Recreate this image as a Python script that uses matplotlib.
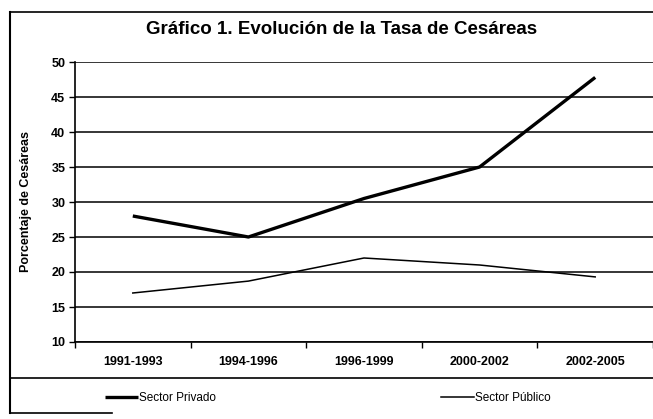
import matplotlib
matplotlib.use("Agg")
import matplotlib.pyplot as plt
from matplotlib.lines import Line2D

periods = ["1991-1993", "1994-1996", "1996-1999", "2000-2002", "2002-2005"]
privado = [28.0, 25.0, 30.5, 35.0, 47.8]
publico = [17.0, 18.7, 22.0, 21.0, 19.3]
yticks = [10, 15, 20, 25, 30, 35, 40, 45, 50]

plt.rcParams['font.family'] = ['Liberation Sans', 'DejaVu Sans']

W, H = 653, 419
fig = plt.figure(figsize=(W / 100, H / 100), dpi=100)
ax = fig.add_axes([75 / W, 1 - 342 / H, (W - 75) / W, (342 - 62) / H])

x = list(range(len(periods)))
ax.plot(x, privado, color='black', lw=2.4, solid_capstyle='butt', label='Sector Privado')
ax.plot(x, publico, color='black', lw=1.1, label='Sector Público')

ax.set_xlim(-0.5, len(periods) - 0.5)
ax.set_ylim(10, 50)
ax.set_yticks(yticks)
ax.set_yticklabels([str(v) for v in yticks], fontsize=9, fontweight='bold')
ax.set_xticks(x)
ax.set_xticklabels(periods, fontsize=9, fontweight='bold')
ax.set_xticks([i + 0.5 for i in range(-1, len(periods))], minor=True)
ax.tick_params(axis='x', which='major', length=0, pad=10)
ax.tick_params(axis='x', which='minor', length=4, width=1, direction='out')
ax.tick_params(axis='y', length=4, width=1, direction='out', pad=3)
ax.grid(axis='y', color='black', lw=1.1)
ax.set_axisbelow(True)
for s in ['top', 'right']:
    ax.spines[s].set_visible(False)
ax.spines['left'].set_linewidth(1.2)
ax.spines['bottom'].set_linewidth(1.2)
ax.set_ylabel('Porcentaje de Cesáreas', fontsize=9, fontweight='bold', labelpad=14)

fig.text(342 / W, 1 - 30 / H, 'Gráfico 1. Evolución de la Tasa de Cesáreas',
         ha='center', va='center', fontsize=13.5, fontweight='bold')

# outer frame
def fl(x0, y0, x1, y1, lw=1.5):
    fig.add_artist(Line2D([x0 / W, x1 / W], [1 - y0 / H, 1 - y1 / H],
                          color='black', lw=lw, transform=fig.transFigure))
fl(10, 12, 10, 413)
fl(10, 12, W, 12, lw=1.2)
fl(10, 378, W, 378, lw=1.2)
fl(10, 413, 112, 413, lw=1.2)

handles, labels = ax.get_legend_handles_labels()
leg = fig.legend(handles, labels, loc='center', bbox_to_anchor=(328 / W, 1 - 398 / H),
                 ncol=2, frameon=False, fontsize=8.5, handlelength=2.8,
                 handletextpad=0.1, columnspacing=19)

fig.savefig('out.png', dpi=100)
